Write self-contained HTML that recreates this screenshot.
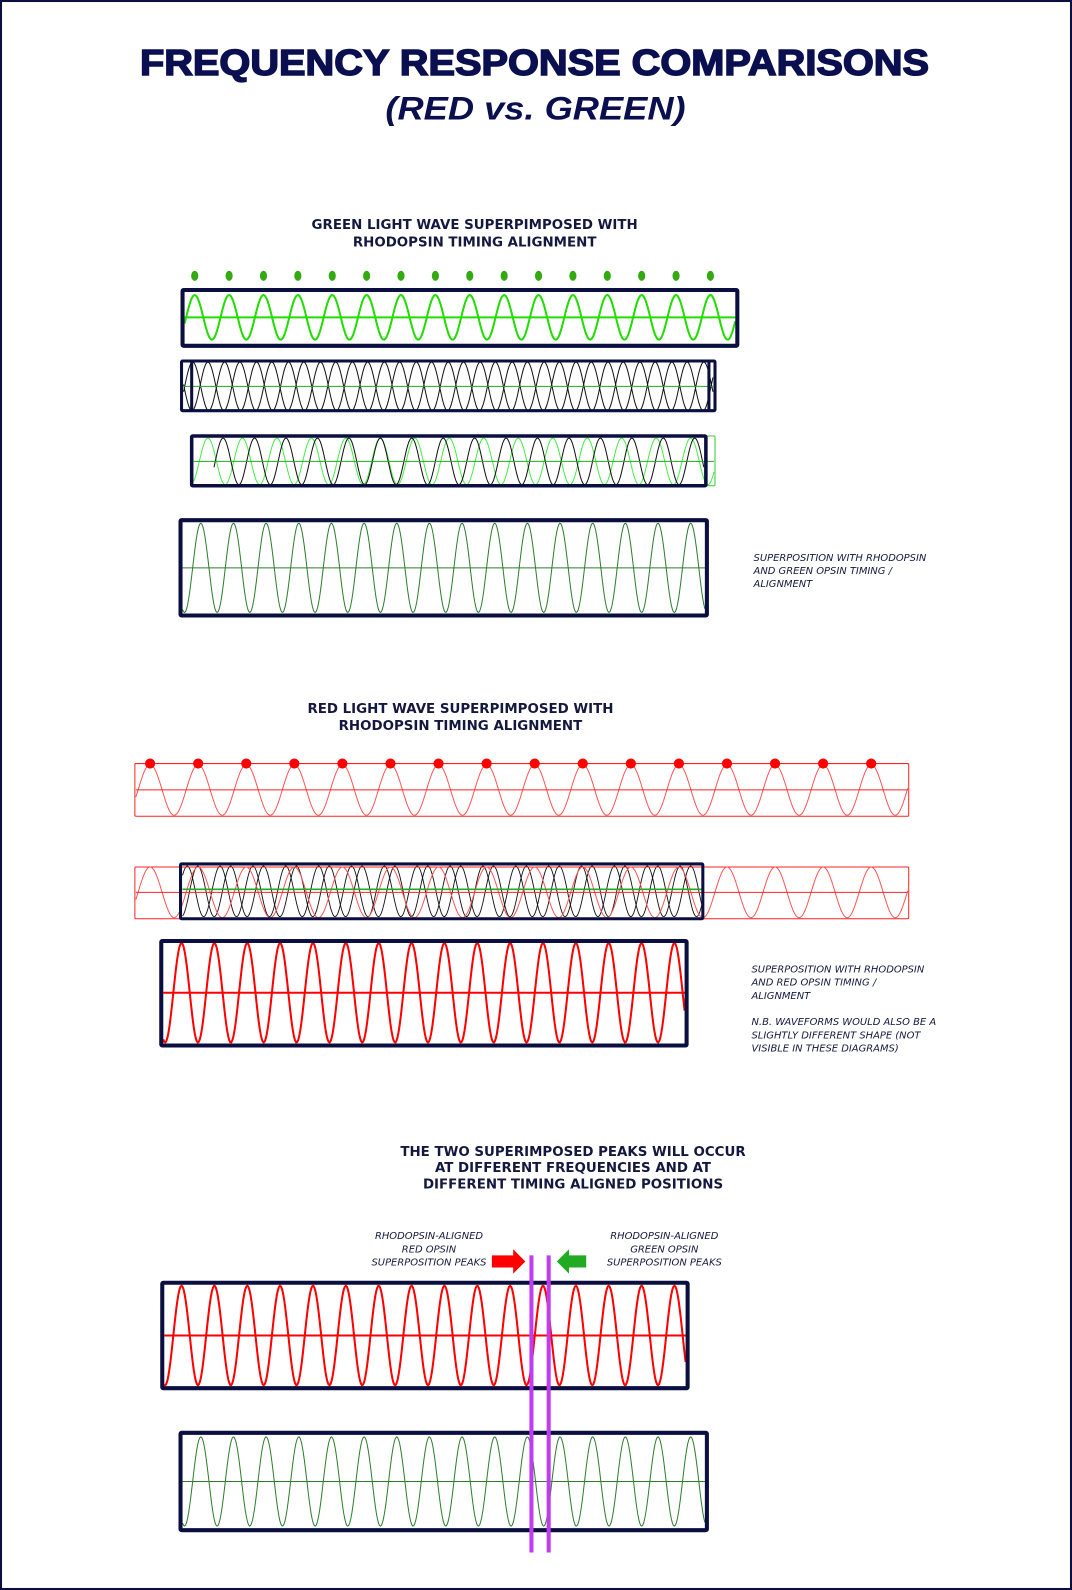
<!DOCTYPE html>
<html><head><meta charset="utf-8"><style>
html,body{margin:0;padding:0;background:#fff}
svg{display:block}
.t{font-family:"DejaVu Sans","Liberation Sans",sans-serif;font-weight:bold;fill:#14183f;font-size:13.2px}
.n{font-family:"DejaVu Sans","Liberation Sans",sans-serif;font-style:italic;fill:#14183f;font-size:9.8px}
</style></head><body>
<svg width="1072" height="1590" viewBox="0 0 1057 1568" preserveAspectRatio="none">
<rect x="1" y="1" width="1055" height="1566" fill="#fff" stroke="#0a0f40" stroke-width="2"/>
<text x="527" y="74" text-anchor="middle" textLength="778" lengthAdjust="spacingAndGlyphs" style="font-family:'Liberation Sans',sans-serif;font-weight:900;font-size:36px;fill:#0a0f50;stroke:#0a0f50;stroke-width:1.5">FREQUENCY RESPONSE COMPARISONS</text>
<text x="528" y="118" text-anchor="middle" textLength="296" lengthAdjust="spacingAndGlyphs" style="font-family:'Liberation Sans',sans-serif;font-weight:bold;font-style:italic;font-size:32px;fill:#0a0f50">(RED  vs. GREEN)</text>
<text class="t" x="468" y="226" text-anchor="middle">GREEN LIGHT WAVE SUPERPIMPOSED WITH</text>
<text class="t" x="468" y="243" text-anchor="middle">RHODOPSIN TIMING ALIGNMENT</text>
<text class="t" x="454" y="703" text-anchor="middle">RED LIGHT WAVE SUPERPIMPOSED WITH</text>
<text class="t" x="454" y="720" text-anchor="middle">RHODOPSIN TIMING ALIGNMENT</text>
<text class="t" x="565" y="1140" text-anchor="middle">THE TWO SUPERIMPOSED PEAKS WILL OCCUR</text>
<text class="t" x="565" y="1156" text-anchor="middle">AT DIFFERENT FREQUENCIES AND AT</text>
<text class="t" x="565" y="1172" text-anchor="middle">DIFFERENT TIMING ALIGNED POSITIONS</text>
<text class="n" x="743" y="553">SUPERPOSITION WITH RHODOPSIN</text>
<text class="n" x="743" y="566">AND GREEN OPSIN TIMING /</text>
<text class="n" x="743" y="579">ALIGNMENT</text>
<text class="n" x="741" y="959">SUPERPOSITION WITH RHODOPSIN</text>
<text class="n" x="741" y="972">AND RED OPSIN TIMING /</text>
<text class="n" x="741" y="985">ALIGNMENT</text>
<text class="n" x="741" y="1011">N.B. WAVEFORMS WOULD ALSO BE A</text>
<text class="n" x="741" y="1024">SLIGHTLY DIFFERENT SHAPE (NOT</text>
<text class="n" x="741" y="1037">VISIBLE IN THESE DIAGRAMS)</text>
<text class="n" x="423" y="1222" text-anchor="middle">RHODOPSIN-ALIGNED</text>
<text class="n" x="423" y="1235" text-anchor="middle">RED OPSIN</text>
<text class="n" x="423" y="1248" text-anchor="middle">SUPERPOSITION PEAKS</text>
<text class="n" x="655" y="1222" text-anchor="middle">RHODOPSIN-ALIGNED</text>
<text class="n" x="655" y="1235" text-anchor="middle">GREEN OPSIN</text>
<text class="n" x="655" y="1248" text-anchor="middle">SUPERPOSITION PEAKS</text>
<polygon points="485,1238 506,1238 506,1232 518,1244 506,1256 506,1250 485,1250" fill="#f00"/>
<polygon points="578,1238 561,1238 561,1232 549,1244 561,1256 561,1250 578,1250" fill="#2a2"/>
<g id="w"></g>
<line x1="524" y1="1238" x2="524" y2="1531" stroke="#c03cf0" stroke-width="4"/>
<line x1="541" y1="1238" x2="541" y2="1531" stroke="#c03cf0" stroke-width="4"/>
</svg>
<script>
var g=document.getElementById('w'),h='';
function wave(x1,x2,mid,A,P,peak,col,w){var d='';for(var x=x1;x<=x2;x+=1){var y=mid-A*Math.cos(2*Math.PI*(x-peak)/P);d+=(x==x1?'M':'L')+x+','+y.toFixed(1);}h+='<path d="'+d+'" fill="none" stroke="'+col+'" stroke-width="'+w+'"/>';}
function line(x1,y1,x2,y2,c,w){h+='<line x1="'+x1+'" y1="'+y1+'" x2="'+x2+'" y2="'+y2+'" stroke="'+c+'" stroke-width="'+w+'"/>';}
function rect(x,y,w,hh,c,sw){h+='<rect x="'+x+'" y="'+y+'" width="'+w+'" height="'+hh+'" fill="none" stroke="'+c+'" stroke-width="'+sw+'" rx="1"/>';}
function dot(x,y,c,rx,ry){h+='<ellipse cx="'+x+'" cy="'+y+'" rx="'+rx+'" ry="'+ry+'" fill="'+c+'"/>';}
var N='#0a0f40';
for(var i=0;i<16;i++)dot(192+i*33.9,272,'#33aa11',3.5,5);
wave(182,725,313,22,33.9,192,'#22dd00',2);line(182,313,725,313,'#22dd00',2);rect(180,286,547,55,N,4);
wave(181,703,381,24,31.5,190,'#111',1);wave(181,703,381,24,31.5,205,'#111',1);line(181,381,703,381,'#2a2',1);
rect(179,356,526,49,N,3);line(189,357,189,404,N,3);line(699,357,699,404,N,3);
rect(189,430,516,49,'#3c3',1);wave(191,704,455,23,34,205,'#44ee44',1);wave(211,694,455,23,31,220,'#111',1);line(191,455,704,455,'#2a2',1);rect(189,430,507,49,N,3.5);
wave(180,695,560,44,32.2,198,'#2d7d2d',1);line(180,560,695,560,'#2d7d2d',1);rect(178,513,519,94,N,4);
rect(133,753,763,52,'#f22',1);wave(134,895,779,25,47.4,148,'#f55',1);line(134,779,895,779,'#f22',1);
for(var i=0;i<16;i++)dot(148+i*47.4,753,'#f00',5,5);
wave(180,692,879,25,32.4,195,'#111',0.9);wave(180,692,879,25,32.4,217,'#111',0.9);
rect(133,855,763,51,'#f22',1);wave(134,895,880,25,47.4,148,'#f55',1);line(134,880,895,880,'#f22',1);line(180,877,692,877,'#2a2',1.5);rect(178,852,515,54,N,3);
wave(161,675,979,49,32.4,179,'#f00',2);line(161,979,675,979,'#f00',2);rect(159,928,518,103,N,4);
wave(162,676,1317,49,32.4,179,'#f00',2);line(162,1317,676,1317,'#f00',2);rect(160,1265,518,104,N,4);
wave(180,695,1461,44,32.2,198,'#2d7d2d',1);line(180,1461,695,1461,'#2d7d2d',1);rect(178,1413,519,96,N,4);
g.innerHTML=h;
</script>
</body></html>
